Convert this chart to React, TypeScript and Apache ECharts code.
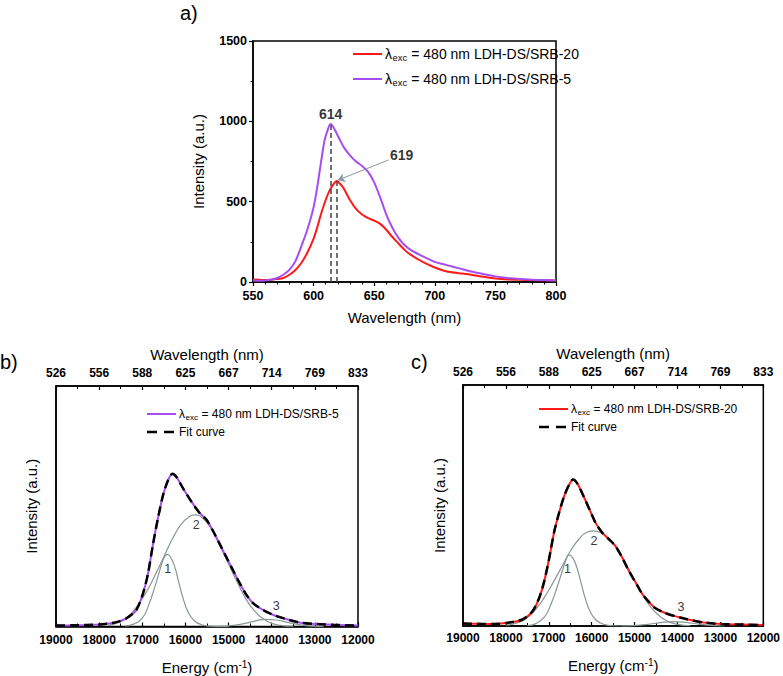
import React, { useEffect, useRef } from "react";
import * as echarts from "echarts";

// ---------- Panel a data ----------
const wavelengthA = [550, 555, 560, 565, 570, 575, 580, 585, 590, 595, 600, 603, 606, 609, 612, 614, 616, 619, 622, 625, 630, 635, 640, 645, 650, 655, 660, 665, 670, 675, 680, 690, 700, 710, 720, 730, 740, 750, 760, 770, 780, 790, 800];
const srb5A = [10, 8, 10, 14, 25, 45, 75, 130, 225, 330, 465, 590, 740, 880, 955, 983, 968, 925, 880, 838, 788, 750, 722, 685, 620, 525, 420, 338, 275, 230, 200, 160, 125, 105, 85, 65, 50, 35, 25, 18, 14, 12, 10];
const srb20A = [15, 14, 12, 14, 18, 25, 45, 75, 120, 185, 270, 340, 420, 490, 550, 580, 605, 628, 610, 580, 510, 455, 420, 398, 382, 362, 325, 280, 240, 200, 170, 125, 90, 65, 55, 45, 32, 22, 16, 14, 12, 11, 10];
const peakPositions = [614, 619];
const peakHeights = [983, 628];
const peakLabels = ["614", "619"];
const peakLabelPos: [number, number][] = [[614.5, 1040], [673, 790]];
const arrowFrom: [number, number] = [662, 760];
const arrowTo: [number, number] = [620, 634];

// ---------- Panel b data (energy cm-1, arbitrary intensity) ----------
const energyB = [19000, 18600, 18300, 17990, 17800, 17600, 17370, 17140, 16984, 16868, 16752, 16636, 16519, 16403, 16302, 16209, 16054, 15860, 15667, 15512, 15357, 15202, 15047, 14891, 14736, 14581, 14426, 14194, 13961, 13651, 13341, 12953, 12566, 12000];
const srb5B = [0.4, 0.5, 0.6, 0.8, 1.2, 1.8, 3.4, 6.8, 13.7, 21.9, 34.2, 45.1, 54.6, 60.8, 63.5, 62.2, 57.4, 51.9, 47.1, 44.4, 39.6, 34.2, 28.7, 23.2, 17.8, 13.0, 9.6, 6.8, 4.8, 3.0, 1.6, 1.0, 0.7, 0.4];
const comp1BE = [17400, 17200, 17000, 16850, 16700, 16600, 16500, 16420, 16350, 16250, 16150, 16050, 15950, 15800, 15600, 15400, 15000];
const comp1B = [0.2, 1, 3.5, 9, 17, 23, 28.5, 30, 29, 25, 18, 11.5, 6.5, 2.5, 0.6, 0.1, 0];
const comp2BE = [17800, 17500, 17300, 17100, 16900, 16700, 16500, 16300, 16100, 15900, 15780, 15600, 15400, 15200, 15000, 14800, 14600, 14400, 14200, 14000, 13800, 13500];
const comp2B = [0.5, 2, 4.5, 9, 14.5, 21.5, 29, 36.5, 42.5, 45.8, 46.4, 45, 40.5, 33.5, 26, 18.5, 11.5, 6.5, 3.2, 1.3, 0.5, 0.1];
const comp3BE = [15300, 15000, 14700, 14400, 14150, 13900, 13600, 13300, 13000, 12800];
const comp3B = [0, 0.3, 1.0, 2.2, 3.0, 2.7, 1.6, 0.6, 0.1, 0];
const compLabelsB: [number, number, string][] = [[16400, 23.9, "1"], [15740, 42, "2"], [13883, 8.2, "3"]];

// ---------- Panel c data ----------
const energyC = [19000, 18700, 18383, 17997, 17611, 17379, 17225, 17109, 16993, 16878, 16762, 16646, 16530, 16438, 16337, 16222, 16067, 15913, 15758, 15604, 15450, 15295, 15141, 14987, 14832, 14678, 14524, 14292, 14060, 13752, 13366, 12980, 12500, 12000];
const srb20C = [1.0, 0.9, 0.8, 1.2, 2.7, 6.1, 11.6, 18.4, 27.9, 38.8, 46.9, 53.7, 58.5, 60.8, 59.2, 55.1, 49.0, 42.9, 38.8, 36.1, 33.3, 28.6, 23.1, 18.4, 13.6, 10.2, 7.5, 5.4, 4.1, 2.7, 1.4, 0.8, 0.6, 0.4];
const comp1CE = [17500, 17300, 17100, 16950, 16800, 16700, 16600, 16530, 16450, 16350, 16250, 16150, 16050, 15900, 15700, 15500, 15000];
const comp1C = [0.2, 1, 3.8, 9, 16.5, 22, 27.5, 29.5, 28.5, 24.5, 18, 11.5, 6.5, 2.5, 0.6, 0.1, 0];
const comp2CE = [18000, 17700, 17500, 17300, 17100, 16900, 16700, 16500, 16300, 16100, 15950, 15800, 15600, 15400, 15200, 15000, 14800, 14600, 14400, 14200, 14000, 13700];
const comp2C = [0.3, 1.5, 3.5, 7, 12, 18, 24.5, 31, 36, 39, 39.5, 38.8, 36, 31.5, 25.5, 19, 12.5, 7.3, 3.8, 1.7, 0.7, 0.1];
const comp3CE = [15300, 15000, 14700, 14400, 14100, 13800, 13500, 13200, 12900];
const comp3C = [0, 0.2, 0.7, 1.4, 1.8, 1.5, 0.8, 0.3, 0];
const compLabelsC: [number, number, string][] = [[16553, 23.4, "1"], [15936, 35, "2"], [13906, 7.5, "3"]];

// ---------- Axis tick labels ----------
const energyTicks = [12000, 13000, 14000, 15000, 16000, 17000, 18000, 19000];
const wavelengthTickLabels = ["833", "769", "714", "667", "625", "588", "556", "526"];

// ---------- Legend texts ----------
const legendSRB20 = "= 480 nm LDH-DS/SRB-20";
const legendSRB5 = "= 480 nm LDH-DS/SRB-5";
const legendFit = "Fit curve";

const FONT = "'Liberation Sans', Arial, sans-serif";
const RED = "#ff1a1a";
const PURPLE = "#a64df2";
const GREY = "#8a9696";

const zip = (xs: number[], ys: number[]) => xs.map((x, i) => [x, ys[i]]);
const plain = (v: number) => String(v);

export default function App() {
  const ref = useRef<HTMLDivElement>(null);
  useEffect(() => {
    if (!ref.current) return;
    const chart = echarts.init(ref.current, undefined, { renderer: "svg" });

    const gridA = { left: 253, top: 41, width: 303, height: 241 };
    const gridB = { left: 56, top: 386, width: 302, height: 242 };
    const gridC = { left: 463, top: 385, width: 302, height: 241 };

    const tickLabel = { color: "#000", fontFamily: FONT, fontWeight: "bold", fontSize: 12 };
    const nameStyle = { color: "#000", fontFamily: FONT, fontSize: 15 };
    const axisLine = { show: true, lineStyle: { color: "#000", width: 1.5 } };

    const energyAxis = (gridIndex: number, labelMargin: number, nameGap: number) => ({
      type: "value",
      gridIndex,
      min: 12000,
      max: 19000,
      interval: 1000,
      inverse: true,
      position: "bottom",
      name: "{n|Energy (cm}{sup|-1}{n|)}",
      nameLocation: "middle",
      nameGap,
      nameTextStyle: {
        ...nameStyle,
        rich: {
          n: { fontFamily: FONT, fontSize: 15, color: "#000" },
          sup: { fontFamily: FONT, fontSize: 10, color: "#000", verticalAlign: "top", padding: [0, 0, 6, 0] },
        },
      },
      axisLine,
      axisTick: { show: true, inside: true, length: 4, lineStyle: { color: "#000", width: 1.2 } },
      minorTick: { show: true, splitNumber: 2, length: 3, lineStyle: { color: "#000", width: 1 } },
      axisLabel: { ...tickLabel, margin: labelMargin, formatter: plain },
      splitLine: { show: false },
    });

    const wavelengthTopAxis = (gridIndex: number) => ({
      type: "value",
      gridIndex,
      min: 12000,
      max: 19000,
      interval: 1000,
      inverse: true,
      position: "top",
      name: "Wavelength (nm)",
      nameLocation: "middle",
      nameGap: 24,
      nameTextStyle: nameStyle,
      axisLine,
      axisTick: { show: true, inside: true, length: 4, lineStyle: { color: "#000", width: 1.2 } },
      minorTick: { show: true, splitNumber: 2, length: 3, lineStyle: { color: "#000", width: 1 } },
      axisLabel: {
        ...tickLabel,
        margin: 7,
        formatter: (v: number) => {
          const i = energyTicks.indexOf(v);
          return i >= 0 ? wavelengthTickLabels[i] : "";
        },
      },
      splitLine: { show: false },
    });

    const intensityAxis = (gridIndex: number, nameGap: number) => ({
      type: "value",
      gridIndex,
      min: 0,
      max: 100,
      name: "Intensity (a.u.)",
      nameLocation: "middle",
      nameGap,
      nameTextStyle: nameStyle,
      axisLine,
      axisTick: { show: false },
      axisLabel: { show: false },
      splitLine: { show: false },
    });

    const lineSeries = (name: string, xi: number, yi: number, data: number[][], color: string, width: number, extra: any = {}) => ({
      type: "line",
      name,
      xAxisIndex: xi,
      yAxisIndex: yi,
      data,
      showSymbol: false,
      symbol: "none",
      smooth: 0.25,
      lineStyle: { color, width },
      z: 2,
      ...extra,
    });

    const labelSeries = (xi: number, yi: number, items: [number, number, string][], fontWeight: any, fontSize: number) => ({
      type: "scatter",
      xAxisIndex: xi,
      yAxisIndex: yi,
      symbolSize: 1,
      itemStyle: { color: "rgba(0,0,0,0)" },
      silent: true,
      data: items.map(([x, y, t]) => ({ value: [x, y], name: t })),
      label: {
        show: true,
        position: [0, 0],
        align: "center",
        verticalAlign: "middle",
        formatter: (p: any) => p.name,
        color: "#000",
        textBorderWidth: 0,
        fontFamily: FONT,
        fontSize,
        fontWeight,
      },
      z: 5,
    });

    const txt = (x: number, y: number, text: string, fontSize: number) => ({
      type: "text",
      x,
      y,
      silent: true,
      style: { text, fontFamily: FONT, fontSize, fill: "#000", verticalAlign: "middle", align: "left" },
    });

    const legendItem = (x: number, y: number, color: string, dashed: boolean, rest: string, lambda: boolean, fs: number) => {
      const items: any[] = [
        {
          type: "line",
          silent: true,
          shape: { x1: x, y1: y, x2: x + 29, y2: y },
          style: { stroke: color, lineWidth: dashed ? 2.5 : 2, lineDash: dashed ? [10, 7] : null },
        },
      ];
      const x0 = x + 32;
      const k = fs / 12;
      if (lambda) {
        items.push(txt(x0, y, "λ", fs));
        items.push(txt(x0 + 6.5 * k, y + 3.5 * k, "exc", 8 * k));
        items.push(txt(x0 + 22.5 * k, y, rest, fs));
      } else {
        items.push(txt(x0, y, rest, fs));
      }
      return items;
    };

    const option: any = {
      animation: false,
      backgroundColor: "#fff",
      grid: [
        { ...gridA, show: true, borderColor: "#000", borderWidth: 1.5, backgroundColor: "transparent" },
        { ...gridB, show: true, borderColor: "#000", borderWidth: 1.5, backgroundColor: "transparent" },
        { ...gridC, show: true, borderColor: "#000", borderWidth: 1.5, backgroundColor: "transparent" },
      ],
      xAxis: [
        {
          type: "value",
          gridIndex: 0,
          min: 550,
          max: 800,
          interval: 50,
          name: "Wavelength (nm)",
          nameLocation: "middle",
          nameGap: 28,
          nameTextStyle: nameStyle,
          axisLine,
          axisTick: { show: true, inside: false, length: 4, lineStyle: { color: "#000", width: 1.2 } },
          minorTick: { show: true, splitNumber: 5, length: 2.5, lineStyle: { color: "#000", width: 1 } },
          axisLabel: { ...tickLabel, fontSize: 12.5, margin: 7, formatter: plain },
          splitLine: { show: false },
        },
        energyAxis(1, 7, 33),
        wavelengthTopAxis(1),
        energyAxis(2, 6, 31),
        wavelengthTopAxis(2),
      ],
      yAxis: [
        {
          type: "value",
          gridIndex: 0,
          min: 0,
          max: 1500,
          interval: 500,
          name: "Intensity (a.u.)",
          nameLocation: "middle",
          nameGap: 47,
          nameTextStyle: nameStyle,
          axisLine,
          axisTick: { show: true, inside: false, length: 4, lineStyle: { color: "#000", width: 1.2 } },
          minorTick: { show: true, splitNumber: 2, length: 2.5, lineStyle: { color: "#000", width: 1 } },
          axisLabel: { ...tickLabel, fontSize: 12.5, margin: 6, formatter: plain },
          splitLine: { show: false },
        },
        intensityAxis(1, 17),
        intensityAxis(2, 16),
      ],
      series: [
        // Panel a
        lineSeries("LDH-DS/SRB-20", 0, 0, zip(wavelengthA, srb20A), RED, 2, {
          markLine: {
            silent: true,
            symbol: ["none", "none"],
            label: { show: false },
            lineStyle: { color: "#444", width: 1.5, type: [5, 3] },
            data: peakPositions.map((p, i) => [{ coord: [p, 0] }, { coord: [p, peakHeights[i]] }]),
          },
        }),
        lineSeries("LDH-DS/SRB-5", 0, 0, zip(wavelengthA, srb5A), PURPLE, 2, {
          markLine: {
            silent: true,
            symbol: ["none", "arrow"],
            symbolSize: 7,
            label: { show: false },
            lineStyle: { color: "#8899a6", width: 1, type: "solid" },
            data: [[{ coord: arrowFrom }, { coord: arrowTo }]],
          },
        }),
        labelSeries(0, 0, peakLabelPos.map((p, i) => [p[0], p[1], peakLabels[i]] as [number, number, string]), "bold", 14),
        // Panel b
        lineSeries("comp1b", 1, 1, zip(comp1BE, comp1B), GREY, 1.2, { smooth: 0.5, z: 1 }),
        lineSeries("comp2b", 1, 1, zip(comp2BE, comp2B), GREY, 1.2, { smooth: 0.5, z: 1 }),
        lineSeries("comp3b", 1, 1, zip(comp3BE, comp3B), GREY, 1.2, { smooth: 0.5, z: 1 }),
        lineSeries("SRB-5 b", 1, 1, zip(energyB, srb5B), PURPLE, 2),
        lineSeries("fit b", 1, 1, zip(energyB, srb5B), "#000", 2.5, { lineStyle: { color: "#000", width: 2.5, type: [9, 5] }, z: 3 }),
        labelSeries(1, 1, compLabelsB, "normal", 12.5),
        // Panel c
        lineSeries("comp1c", 3, 2, zip(comp1CE, comp1C), GREY, 1.2, { smooth: 0.5, z: 1 }),
        lineSeries("comp2c", 3, 2, zip(comp2CE, comp2C), GREY, 1.2, { smooth: 0.5, z: 1 }),
        lineSeries("comp3c", 3, 2, zip(comp3CE, comp3C), GREY, 1.2, { smooth: 0.5, z: 1 }),
        lineSeries("SRB-20 c", 3, 2, zip(energyC, srb20C), RED, 2),
        lineSeries("fit c", 3, 2, zip(energyC, srb20C), "#000", 2.5, { lineStyle: { color: "#000", width: 2.5, type: [9, 5] }, z: 3 }),
        labelSeries(3, 2, compLabelsC, "normal", 12.5),
      ],
      graphic: [
        { type: "text", x: 180, y: 3, silent: true, style: { text: "a)", fontFamily: FONT, fontSize: 20, fill: "#000" } },
        { type: "text", x: 0, y: 352, silent: true, style: { text: "b)", fontFamily: FONT, fontSize: 20, fill: "#000" } },
        { type: "text", x: 411, y: 352, silent: true, style: { text: "c)", fontFamily: FONT, fontSize: 20, fill: "#000" } },
        ...legendItem(353, 54, RED, false, legendSRB20, true, 14),
        ...legendItem(353, 79, PURPLE, false, legendSRB5, true, 14),
        ...legendItem(147, 414, PURPLE, false, legendSRB5, true, 12),
        ...legendItem(147, 432, "#000", true, legendFit, false, 12),
        ...legendItem(539, 409, RED, false, legendSRB20, true, 12),
        ...legendItem(539, 427, "#000", true, legendFit, false, 12),
      ],
    };

    chart.setOption(option);
    return () => chart.dispose();
  }, []);

  return (
    <div
      ref={ref}
      style={{ position: "absolute", left: 0, top: 0, width: 783, height: 676, background: "#fff" }}
    />
  );
}
